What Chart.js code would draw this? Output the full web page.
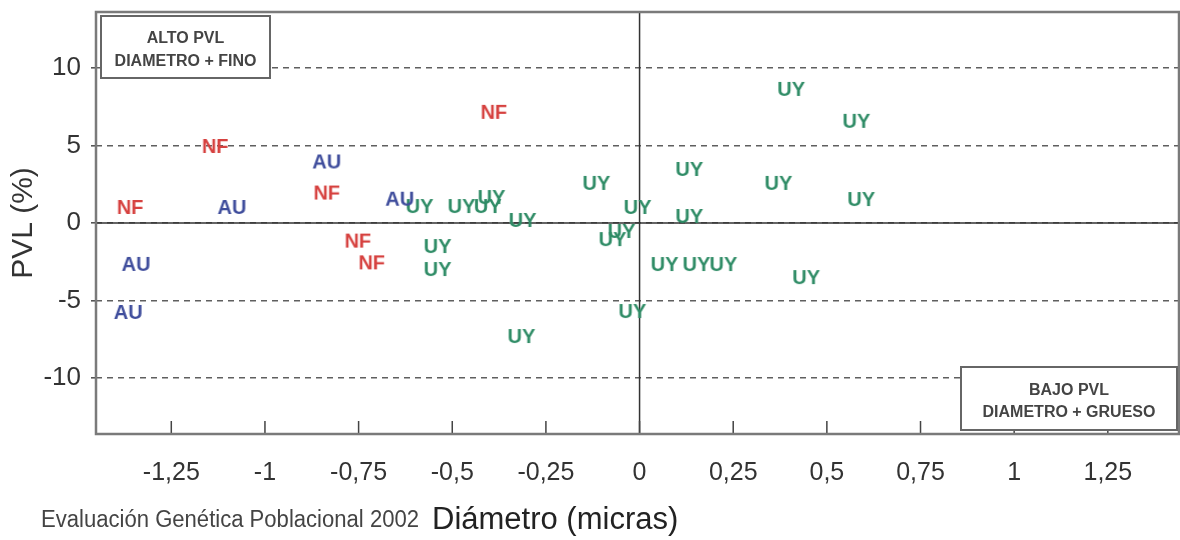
<!DOCTYPE html>
<html lang="es">
<head>
<meta charset="UTF-8">
<title>PVL vs Diámetro</title>
<script src="https://cdn.jsdelivr.net/npm/chart.js"></script>
<style>
  body { margin: 0; background: #fff; }
  canvas { display: block; }
</style>
</head>
<body>
<canvas id="pvlChart" width="1180" height="540"></canvas>
<script>
// data (x = diámetro, y = PVL %)
const nfX = [-1.36, -1.133, -0.389, -0.835, -0.752, -0.715];
const nfY = [0.97, 4.9, 7.1, 1.9, -1.2, -2.6];
const auX = [-1.344, -1.365, -1.088, -0.835, -0.64];
const auY = [-2.7, -5.8, 0.97, 3.9, 1.5];
const uyX = [0.405, 0.579, 0.133, 0.371, 0.592, -0.115, 0.133, -0.005, -0.587, -0.475, -0.405, -0.395,
             -0.312, -0.539, -0.539, -0.048, -0.072, 0.067, 0.152, 0.224, 0.445, -0.019, -0.315];
const uyY = [8.58, 6.52, 3.42, 2.52, 1.48, 2.52, 0.39, 0.97, 1.03, 1.03, 1.03, 1.61,
             0.13, -1.55, -3.03, -0.58, -1.1, -2.71, -2.71, -2.71, -3.55, -5.74, -7.35];

const xTicks = [-1.25, -1, -0.75, -0.5, -0.25, 0, 0.25, 0.5, 0.75, 1, 1.25];
const yTicks = [-10, -5, 0, 5, 10];

const sans = '"Liberation Sans", Arial, sans-serif';

// each point is drawn as its group code
function labelImage(text, color) {
  const font = 'bold 20px ' + sans;
  const c = document.createElement('canvas');
  let g = c.getContext('2d');
  g.font = font;
  const w = Math.ceil(g.measureText(text).width) + 2;
  c.width = w; c.height = 24;
  g = c.getContext('2d');
  g.font = font;
  g.fillStyle = color;
  g.textAlign = 'center';
  g.textBaseline = 'middle';
  g.fillText(text, w / 2, 12);
  return c;
}

function pts(xs, ys) {
  return xs.map((x, i) => ({ x: x, y: ys[i] }));
}

function group(name, xs, ys, color) {
  return {
    label: name,
    data: pts(xs, ys),
    pointStyle: labelImage(name, color),
    pointRadius: 10,
    pointHoverRadius: 10
  };
}

function box(ctx, x, y, w, h, lines) {
  ctx.save();
  ctx.fillStyle = '#fff';
  ctx.fillRect(x, y, w, h);
  ctx.strokeStyle = '#666';
  ctx.lineWidth = 2;
  ctx.strokeRect(x, y, w, h);
  ctx.fillStyle = '#444';
  ctx.font = 'bold 16px ' + sans;
  ctx.textAlign = 'center';
  ctx.textBaseline = 'middle';
  ctx.fillText(lines[0], x + w / 2, y + h * 0.37);
  ctx.fillText(lines[1], x + w / 2, y + h * 0.73);
  ctx.restore();
}

const framePlugin = {
  id: 'frame',
  beforeDatasetsDraw(chart) {
    const { ctx, chartArea: a, scales } = chart;
    const x0 = scales.x.getPixelForValue(0);
    const y0 = scales.y.getPixelForValue(0);
    ctx.save();
    // zero lines
    ctx.strokeStyle = '#333';
    ctx.lineWidth = 1.5;
    ctx.beginPath();
    ctx.moveTo(x0, a.top); ctx.lineTo(x0, a.bottom);
    ctx.moveTo(a.left, y0); ctx.lineTo(a.right, y0);
    ctx.stroke();
    // x ticks pointing up into the plot
    ctx.strokeStyle = '#444';
    ctx.beginPath();
    xTicks.forEach(v => {
      const px = scales.x.getPixelForValue(v);
      ctx.moveTo(px, a.bottom); ctx.lineTo(px, a.bottom - 13);
    });
    ctx.stroke();
    // frame
    ctx.strokeStyle = '#7a7a7a';
    ctx.lineWidth = 2.5;
    ctx.strokeRect(a.left, a.top, a.right - a.left, a.bottom - a.top);
    ctx.restore();

    box(ctx, a.left + 5, a.top + 4, 169, 62, ['ALTO PVL', 'DIAMETRO + FINO']);
    box(ctx, a.right - 218, a.bottom - 67, 216, 63, ['BAJO PVL', 'DIAMETRO + GRUESO']);
  },
  afterDraw(chart) {
    const ctx = chart.ctx;
    ctx.save();
    ctx.fillStyle = '#444';
    ctx.textBaseline = 'middle';
    ctx.textAlign = 'left';
    ctx.font = '23px ' + sans;
    ctx.fillText('Evaluación Genética Poblacional 2002', 41, 521, 378);
    ctx.fillStyle = '#222';
    ctx.font = '31px ' + sans;
    ctx.fillText('Diámetro (micras)', 432, 520, 258);
    ctx.restore();
  }
};

const ctx = document.getElementById('pvlChart').getContext('2d');
const pvlChart = new Chart(ctx, {
  type: 'scatter',
  data: {
    datasets: [
      group('NF', nfX, nfY, '#d6413f'),
      group('AU', auX, auY, '#3f4d9c'),
      group('UY', uyX, uyY, '#2f8c66')
    ]
  },
  options: {
    responsive: false,
    animation: false,
    events: [],
    layout: { autoPadding: false, padding: { top: 12, right: 1, left: 0, bottom: 0 } },
    plugins: {
      legend: { display: false },
      tooltip: { enabled: false }
    },
    scales: {
      x: {
        type: 'linear',
        min: -1.451,
        max: 1.44,
        afterBuildTicks: s => { s.ticks = xTicks.map(v => ({ value: v })); },
        afterFit: s => { s.height = 106; s.paddingLeft = 0; s.paddingRight = 0; },
        ticks: {
          callback: v => String(v).replace('.', ','),
          font: { family: sans, size: 25 },
          color: '#333',
          padding: 16,
          maxRotation: 0,
          autoSkip: false
        },
        grid: { display: false },
        border: { display: false }
      },
      y: {
        min: -13.6,
        max: 13.6,
        afterBuildTicks: s => { s.ticks = yTicks.map(v => ({ value: v })); },
        afterFit: s => { s.width = 96; s.paddingTop = 0; s.paddingBottom = 0; },
        ticks: {
          font: { family: sans, size: 26 },
          color: '#333',
          padding: 10
        },
        grid: {
          color: '#5f5f5f',
          lineWidth: 1.6,
          drawTicks: true,
          tickLength: 5,
          tickColor: '#555'
        },
        border: { display: false, dash: [6, 5] },
        title: {
          display: true,
          text: 'PVL (%)',
          font: { family: sans, size: 30 },
          color: '#333',
          padding: { top: 6, bottom: 0 }
        }
      }
    }
  },
  plugins: [framePlugin]
});
</script>
</body>
</html>
